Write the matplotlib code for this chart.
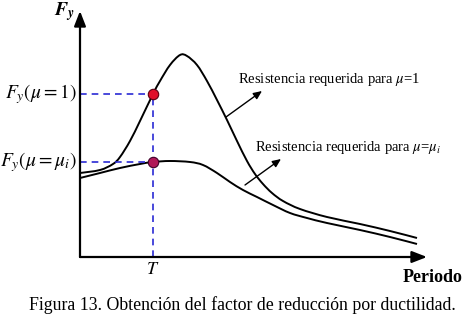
import matplotlib
matplotlib.use("Agg")
import matplotlib.pyplot as plt
from matplotlib.path import Path
from matplotlib.patches import PathPatch
import numpy as np

plt.rcParams['font.family'] = ['Liberation Serif', 'DejaVu Serif']
plt.rcParams['mathtext.fontset'] = 'stix'

# Required strength vs period (sketch values, period in arbitrary units)
periodo_mu1 = [0.00, 0.20, 0.33, 0.40, 0.50, 0.60, 0.73, 0.80, 0.90, 1.00, 1.07,
               1.17, 1.27, 1.37, 1.47, 1.57, 1.67, 1.75, 1.83, 1.92, 2.03, 2.20,
               2.47, 2.80, 3.10, 3.37]
fy_mu1 = [0.84, 0.87, 0.93, 1.00, 1.16, 1.36, 1.63, 1.76, 1.92, 2.02, 2.01,
          1.92, 1.76, 1.57, 1.37, 1.16, 0.96, 0.83, 0.73, 0.64, 0.56, 0.48,
          0.40, 0.33, 0.26, 0.19]

periodo_mui = [0.00, 0.20, 0.40, 0.60, 0.73, 0.90, 1.10, 1.23, 1.37, 1.50, 1.63,
               1.77, 1.93, 2.10, 2.27, 2.47, 2.80, 3.10, 3.37]
fy_mui = [0.79, 0.84, 0.89, 0.93, 0.95, 0.96, 0.95, 0.92, 0.84, 0.75, 0.67,
          0.60, 0.52, 0.44, 0.39, 0.34, 0.27, 0.20, 0.13]

T = 0.73
fy_T_mu1 = 1.63
fy_T_mui = 0.95


def smooth_path(xs, ys):
    # cubic bezier through the points (catmull-rom tangents)
    p = np.column_stack([xs, ys])
    verts = [p[0]]
    codes = [Path.MOVETO]
    for i in range(len(p) - 1):
        p0 = p[i - 1] if i > 0 else p[i]
        p3 = p[i + 2] if i + 2 < len(p) else p[i + 1]
        c1 = p[i] + (p[i + 1] - p0) / 6.0
        c2 = p[i + 1] - (p3 - p[i]) / 6.0
        verts += [c1, c2, p[i + 1]]
        codes += [Path.CURVE4] * 3
    return Path(verts, codes)


fig = plt.figure(figsize=(4.62, 3.15), dpi=100)
ax = fig.add_axes([0, 0, 1, 1])
ax.set_xlim(-0.80, 3.82)
ax.set_ylim(-0.58, 2.57)
ax.axis('off')

# axes with arrows
ax.annotate('', xy=(3.47, 0), xytext=(0, 0),
            arrowprops=dict(arrowstyle='-|>,head_length=0.9,head_width=0.35', lw=1.6,
                            color='k', shrinkA=0, shrinkB=0))
ax.annotate('', xy=(0, 2.46), xytext=(0, 0),
            arrowprops=dict(arrowstyle='-|>,head_length=0.9,head_width=0.35', lw=1.6,
                            color='k', shrinkA=0, shrinkB=0))

# curves
for xs, ys in [(periodo_mu1, fy_mu1), (periodo_mui, fy_mui)]:
    ax.add_patch(PathPatch(smooth_path(xs, ys), fill=False, ec='k', lw=1.4))

# dashed guide lines
blue = '#2a2ad4'
ax.plot([0, T], [fy_T_mu1, fy_T_mu1], color=blue, lw=1.2, dashes=(4, 3))
ax.plot([0, T], [fy_T_mui, fy_T_mui], color=blue, lw=1.2, dashes=(4, 3))
ax.plot([T, T], [0, fy_T_mu1], color=blue, lw=1.2, dashes=(4, 3))

ax.plot([T], [fy_T_mu1], 'o', ms=7.5, mfc='#e0102a', mec='#5a0010', mew=0.8)
ax.plot([T], [fy_T_mui], 'o', ms=7.5, mfc='#b01858', mec='#40002a', mew=0.8)

# annotation arrows
ax.annotate('', xy=(1.82, 1.66), xytext=(1.46, 1.40),
            arrowprops=dict(arrowstyle='-|>,head_length=0.5,head_width=0.22', lw=1.0,
                            color='k', shrinkA=0, shrinkB=0))
ax.annotate('', xy=(2.01, 0.98), xytext=(1.65, 0.72),
            arrowprops=dict(arrowstyle='-|>,head_length=0.5,head_width=0.22', lw=1.0,
                            color='k', shrinkA=0, shrinkB=0))

ax.text(1.58, 1.77, r'Resistencia requerida para $\mu$=1', fontsize=10.5,
        ha='left', va='center')
ax.text(1.75, 1.10, r'Resistencia requerida para $\mu$=$\mu_i$', fontsize=10.5,
        ha='left', va='center')

# axis labels
ax.text(-0.03, fy_T_mu1, r'$F_y\left(\mu=1\right)$', fontsize=14, ha='right', va='center')
ax.text(-0.03, fy_T_mui, r'$F_y\left(\mu=\mu_i\right)$', fontsize=14, ha='right', va='center')
ax.text(-0.16, 2.45, r'$\mathbfit{F}_{\mathbfit{y}}$', fontsize=14, ha='center', va='center')
ax.text(T, -0.13, r'$T$', fontsize=13, ha='center', va='center')
ax.text(3.83, -0.21, 'Periodo', fontsize=13, fontweight='bold', ha='right', va='center')

fig.text(242 / 462, 1 - 305 / 315, 'Figura 13. Obtención del factor de reducción por ductilidad.',
         fontsize=12.8, ha='center', va='center')

fig.savefig('out.png', dpi=100)
